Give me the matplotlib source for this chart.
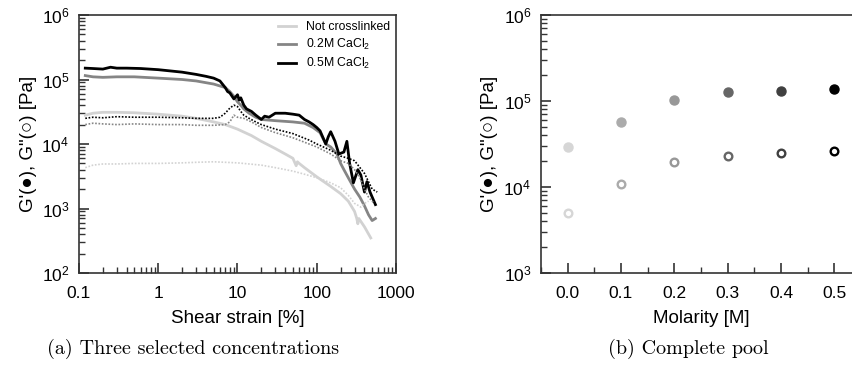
import matplotlib
matplotlib.use("Agg")
import matplotlib.pyplot as plt
from matplotlib.ticker import LogLocator, FixedLocator, MultipleLocator, NullFormatter, LogFormatterMathtext

plt.rcParams['font.family'] = ['Liberation Sans', 'DejaVu Sans']
plt.rcParams['mathtext.default'] = 'regular'

# ---------------- data: panel (a) ----------------
x_05_gp = [0.12, 0.15, 0.2, 0.25, 0.3, 0.4, 0.6, 1, 2, 3, 4, 5, 6, 7, 7.5, 8, 9, 10, 10.5, 11, 12, 13, 15, 17, 20,
           22, 25, 30, 40, 50, 60, 70, 80, 90, 100, 110, 130, 140, 150, 170, 190, 220, 240, 260, 290, 330, 360,
           400, 430, 470, 550]
y_05_gp = [1.5e5, 1.48e5, 1.45e5, 1.55e5, 1.5e5, 1.5e5, 1.48e5, 1.42e5, 1.3e5, 1.2e5, 1.12e5, 1.05e5, 9.5e4,
           7.5e4, 6.5e4, 6.2e4, 5.0e4, 5.8e4, 4.8e4, 5.2e4, 4.0e4, 3.5e4, 3.2e4, 2.8e4, 2.4e4,
           2.7e4, 2.6e4, 3.0e4, 3.0e4, 2.9e4, 2.8e4, 2.4e4, 2.2e4, 2.0e4, 1.8e4, 1.6e4, 1.0e4, 1.3e4, 1.55e4,
           1.1e4, 7e3, 7.5e3, 1.1e4, 5e3, 2.5e3, 4e3, 3.3e3, 1.8e3, 2.6e3, 1.8e3, 1.15e3]

x_02_gp = [0.12, 0.15, 0.2, 0.3, 0.5, 1, 2, 3, 5, 7, 8, 9, 10, 11, 12, 14, 17, 20, 30, 50, 70, 90, 110, 130,
           150, 180, 200, 220, 250, 300, 350, 400, 450, 500, 550]
y_02_gp = [1.15e5, 1.1e5, 1.08e5, 1.1e5, 1.1e5, 1.05e5, 1.0e5, 9.5e4, 8.5e4, 7.5e4, 6.5e4, 5.5e4, 4.5e4, 4.0e4,
           3.5e4, 3.0e4, 2.6e4, 2.4e4, 2.3e4, 2.2e4, 2.1e4, 1.8e4, 1.5e4, 1.0e4, 9e3, 7e3, 5e3, 4e3, 3e3, 2e3,
           1.5e3, 1.1e3, 800, 650, 700]

x_00_gp = [0.12, 0.15, 0.2, 0.3, 0.5, 1, 2, 3, 5, 7, 10, 15, 20, 30, 40, 50, 55, 57, 60, 70, 100, 150, 200, 250,
           300, 320, 330, 340, 400, 480]
y_00_gp = [2.8e4, 3.0e4, 3.1e4, 3.1e4, 3.05e4, 2.9e4, 2.7e4, 2.5e4, 2.2e4, 2.0e4, 1.7e4, 1.35e4, 1.1e4, 8.5e3,
           7e3, 6e3, 4.6e3, 5.3e3, 5.0e3, 4.3e3, 3.1e3, 2.2e3, 1.7e3, 1.3e3, 900, 700, 580, 700, 520, 350]

x_05_gpp = [0.12, 0.15, 0.2, 0.3, 0.5, 1, 2, 3, 5, 6, 7, 8, 9, 10, 11, 12, 14, 17, 20, 30, 50, 80, 100, 150,
            200, 250, 300, 400, 500, 580]
y_05_gpp = [2.5e4, 2.6e4, 2.55e4, 2.65e4, 2.6e4, 2.6e4, 2.55e4, 2.5e4, 2.5e4, 2.6e4, 3.0e4, 3.6e4, 4.0e4, 3.8e4,
            3.2e4, 2.8e4, 2.5e4, 2.2e4, 2.0e4, 1.7e4, 1.45e4, 1.15e4, 1.0e4, 8e3, 6.5e3, 6e3, 5.5e3, 3.5e3,
            2.0e3, 1.8e3]

x_02_gpp = [0.12, 0.15, 0.2, 0.3, 0.5, 1, 2, 3, 5, 7, 8, 9, 10, 12, 15, 20, 30, 50, 100, 150, 200, 250, 300, 350,
            400, 450, 530]
y_02_gpp = [2.0e4, 2.1e4, 2.05e4, 2.0e4, 2.05e4, 2.0e4, 2.0e4, 1.95e4, 1.95e4, 2.0e4, 2.2e4, 2.8e4, 2.6e4, 2.5e4,
            2.2e4, 1.8e4, 1.5e4, 1.25e4, 9e3, 7e3, 5.5e3, 5e3, 4e3, 3e3, 2e3, 1.5e3, 1.2e3]

x_00_gpp = [0.12, 0.15, 0.2, 0.3, 0.5, 1, 2, 3, 5, 10, 20, 30, 50, 70, 100, 150, 200, 250, 300, 340, 360, 400, 450]
y_00_gpp = [4.3e3, 4.7e3, 4.9e3, 4.9e3, 5.0e3, 5.0e3, 5.1e3, 5.2e3, 5.3e3, 5.1e3, 4.7e3, 4.3e3, 3.8e3, 3.4e3,
            3.0e3, 2.5e3, 2.1e3, 1.6e3, 1.2e3, 1.1e3, 1.05e3, 1.2e3, 1.3e3]

legend_labels = ['Not crosslinked', '0.2M CaCl$_2$', '0.5M CaCl$_2$']
xticks_a = [0.1, 1, 10, 100, 1000]
xticklabels_a = ['0.1', '1', '10', '100', '1000']

# ---------------- data: panel (b) ----------------
molarity = [0.0, 0.1, 0.2, 0.3, 0.4, 0.5]
g_storage = [2.9e4, 5.65e4, 1.02e5, 1.28e5, 1.31e5, 1.39e5]
g_loss = [4.95e3, 1.09e4, 1.95e4, 2.27e4, 2.5e4, 2.63e4]
point_colors = ['#d6d6d6', '#ababab', '#989898', '#666666', '#404040', '#000000']

c_light, c_mid, c_dark = '#d2d2d2', '#858585', '#000000'
spine_col = '#333333'
TICK_FS = 12.5
LABEL_FS = 13.5

fig = plt.figure(figsize=(8.53, 3.73), dpi=100)
axA = fig.add_axes([79/853, 100/373, 317/853, 258/373])
axB = fig.add_axes([541/853, 100/373, 320/853, 258/373])

# panel a
axA.plot(x_00_gp, y_00_gp, color=c_light, lw=2.0, label=legend_labels[0])
axA.plot(x_02_gp, y_02_gp, color=c_mid, lw=2.0, label=legend_labels[1])
axA.plot(x_05_gp, y_05_gp, color=c_dark, lw=2.0, label=legend_labels[2])
axA.plot(x_00_gpp, y_00_gpp, color=c_light, lw=1.2, ls=(0, (1, 1)))
axA.plot(x_02_gpp, y_02_gpp, color=c_mid, lw=1.2, ls=(0, (1, 1)))
axA.plot(x_05_gpp, y_05_gpp, color=c_dark, lw=1.2, ls=(0, (1, 1)))
axA.set_xscale('log')
axA.set_yscale('log')
axA.set_xlim(0.1, 1000)
axA.set_ylim(1e2, 1e6)
axA.xaxis.set_major_locator(FixedLocator(xticks_a))
axA.set_xticklabels(xticklabels_a)
axA.xaxis.set_minor_locator(LogLocator(base=10, subs=range(2, 10), numticks=20))
axA.xaxis.set_minor_formatter(NullFormatter())
axA.yaxis.set_major_locator(LogLocator(base=10, numticks=10))
axA.yaxis.set_minor_locator(LogLocator(base=10, subs=range(2, 10), numticks=20))
axA.yaxis.set_major_formatter(LogFormatterMathtext())
axA.yaxis.set_minor_formatter(NullFormatter())
for s in axA.spines.values():
    s.set_color(spine_col)
    s.set_linewidth(1.2)

axA.set_xlabel('Shear strain [%]', fontsize=LABEL_FS, labelpad=7)
axA.set_ylabel('G\'(\u25CF), G"(\u25CB) [Pa]', fontsize=LABEL_FS, labelpad=3)
axA.legend(loc='upper right', frameon=False, fontsize=8.8, handlelength=1.5, labelspacing=0.32,
           borderaxespad=0.1, handletextpad=0.8)

# panel b
for m, gs, gl, c in zip(molarity, g_storage, g_loss, point_colors):
    axB.plot([m], [gs], 'o', ms=6.5, color=c, mec=c)
    axB.plot([m], [gl], 'o', ms=5.5, mfc='white', mec=c, mew=1.7)
axB.set_yscale('log')
axB.set_xlim(-0.05, 0.55)
axB.set_ylim(1e3, 1e6)
axB.xaxis.set_major_locator(FixedLocator(molarity))
axB.set_xticklabels([f'{m:.1f}' for m in molarity])
axB.xaxis.set_minor_locator(MultipleLocator(0.05))
axB.yaxis.set_major_locator(LogLocator(base=10, numticks=10))
axB.yaxis.set_minor_locator(LogLocator(base=10, subs=range(2, 10), numticks=20))
axB.yaxis.set_major_formatter(LogFormatterMathtext())
axB.yaxis.set_minor_formatter(NullFormatter())
axB.set_xlabel('Molarity [M]', fontsize=LABEL_FS, labelpad=7)
axB.set_ylabel('G\'(\u25CF), G"(\u25CB) [Pa]', fontsize=LABEL_FS, labelpad=4)
for s in axB.spines.values():
    s.set_color(spine_col)
    s.set_linewidth(1.2)

for ax in (axA, axB):
    ax.tick_params(which='major', direction='in', length=7, width=1.2, color=spine_col,
                   labelsize=TICK_FS, pad=7)
    ax.tick_params(axis='x', which='major', pad=9)
    ax.tick_params(which='minor', direction='in', length=4, width=1.0, color=spine_col)

fig.text(193/853, 1 - 349/373, '(a) Three selected concentrations', ha='center', va='center',
         fontsize=14.5, family=['cmr10', 'DejaVu Serif'])
fig.text(688/853, 1 - 349/373, '(b) Complete pool', ha='center', va='center',
         fontsize=14.5, family=['cmr10', 'DejaVu Serif'])

fig.savefig('out.png', dpi=100)
